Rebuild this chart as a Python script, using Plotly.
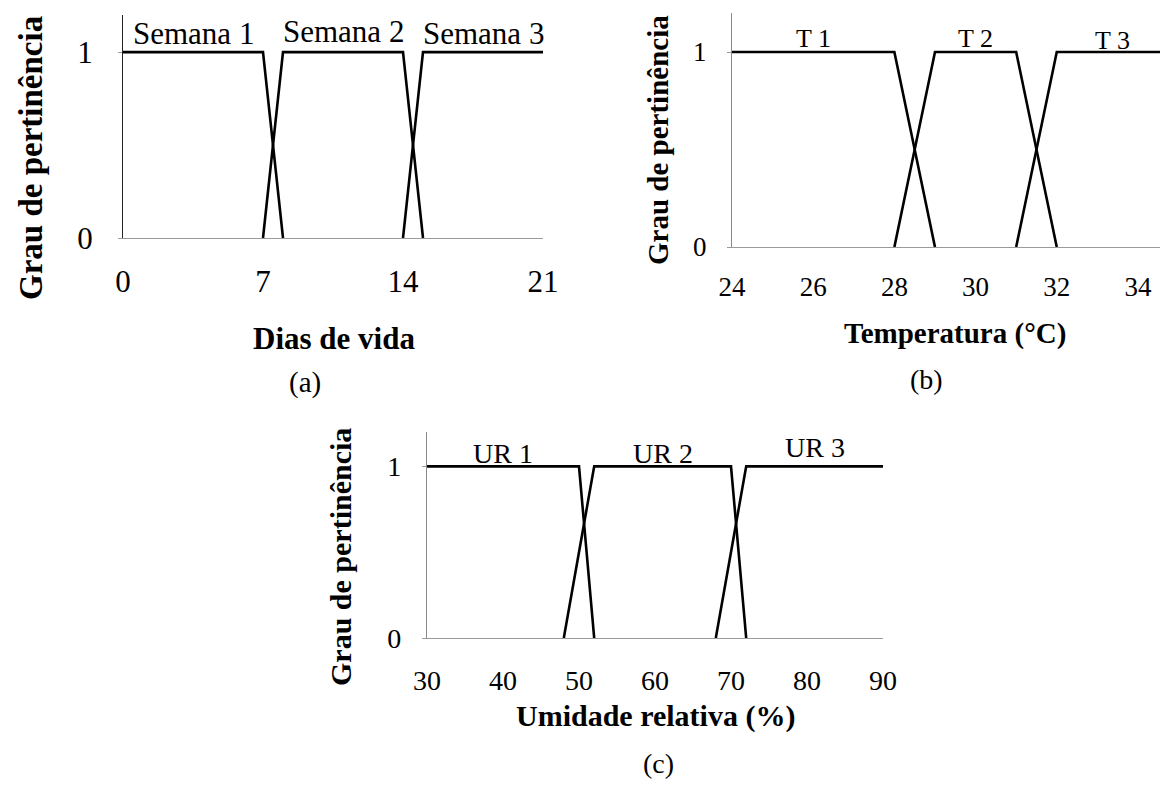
import plotly.graph_objects as go

# ---------------- data ----------------
dias_labels = ["Semana 1", "Semana 2", "Semana 3"]
dias_x = [[0, 7, 8], [7, 8, 14, 15], [14, 15, 21]]
dias_y = [[1, 1, 0], [0, 1, 1, 0], [0, 1, 1]]
dias_ticks = [0, 7, 14, 21]

temp_labels = ["T 1", "T 2", "T 3"]
temp_x = [[24, 28, 29], [28, 29, 31, 32], [31, 32, 35]]
temp_y = [[1, 1, 0], [0, 1, 1, 0], [0, 1, 1]]
temp_ticks = [24, 26, 28, 30, 32, 34]

ur_labels = ["UR 1", "UR 2", "UR 3"]
ur_x = [[30, 50, 52], [48, 52, 70, 72], [68, 72, 90]]
ur_y = [[1, 1, 0], [0, 1, 1, 0], [0, 1, 1]]
ur_ticks = [30, 40, 50, 60, 70, 80, 90]

y_ticks = [0, 1]

FONT = "Times New Roman, Liberation Serif, serif"
OFF = 8  # default page body margin
W, H = 1168 - OFF, 785 - OFF

fig = go.Figure()


def px_x(p):
    return (p - OFF) / W


def px_y(p):
    return 1 - (p - OFF) / H


panels = [
    dict(n="", xs=dias_x, ys=dias_y, labels=dias_labels, ticks=dias_ticks,
         xrange=[0, 21], xdom=[123, 543], ydom=[15, 238], tick_font=31,
         lab_font=31, lab_y=[1.10, 1.11, 1.10], ylinecolor="#222222",
         xstand=16, ystand=19),
    dict(n="2", xs=temp_x, ys=temp_y, labels=temp_labels, ticks=temp_ticks,
         xrange=[24, 34.74], xdom=[732, 1168], ydom=[13, 247], tick_font=27,
         lab_font=26, lab_y=[1.07, 1.07, 1.06], ylinecolor="#8a8a8a",
         xstand=15, ystand=15),
    dict(n="3", xs=ur_x, ys=ur_y, labels=ur_labels, ticks=ur_ticks,
         xrange=[30, 90], xdom=[427, 883], ydom=[432, 638], tick_font=28,
         lab_font=28, lab_y=[1.075, 1.075, 1.11], ylinecolor="#8a8a8a",
         xstand=17, ystand=15),
]

for p in panels:
    xa = "x" + p["n"]
    ya = "y" + p["n"]
    for xs, ys in zip(p["xs"], p["ys"]):
        fig.add_trace(go.Scatter(x=xs, y=ys, mode="lines", xaxis=xa, yaxis=ya,
                                 line=dict(color="black", width=2.6),
                                 showlegend=False, hoverinfo="skip"))
    for i, (lab, xs, yv) in enumerate(zip(p["labels"], p["xs"], p["lab_y"])):
        # label centred over the plateau (membership = 1) of its set
        if i == 0:
            lo, hi = xs[0], xs[1]
        elif len(xs) == 4:
            lo, hi = xs[1], xs[2]
        else:
            lo, hi = xs[1], min(xs[2], p["xrange"][1])
        fig.add_annotation(x=(lo + hi) / 2, y=yv, xref=xa, yref=ya,
                           text=lab, showarrow=False,
                           font=dict(family=FONT, size=p["lab_font"], color="black"),
                           xanchor="center", yanchor="middle")
    xkey = "xaxis" + p["n"]
    ykey = "yaxis" + p["n"]
    fig.update_layout(**{
        xkey: dict(domain=[px_x(p["xdom"][0]), min(1.0, px_x(p["xdom"][1]))],
                   range=p["xrange"], anchor=ya, showgrid=False, zeroline=False,
                   showline=True, linecolor="#9a9a9a", linewidth=1.2,
                   ticks="", tickvals=p["ticks"], ticklabelstandoff=p["xstand"],
                   tickfont=dict(family=FONT, size=p["tick_font"], color="black"),
                   automargin=False, fixedrange=True),
        ykey: dict(domain=[px_y(p["ydom"][1]), px_y(p["ydom"][0])],
                   range=[0, 1.2], anchor=xa, showgrid=False, zeroline=False,
                   showline=True, linecolor=p["ylinecolor"], linewidth=1.2,
                   ticks="outside", ticklen=4, tickcolor="#9a9a9a",
                   tickvals=y_ticks, ticklabelstandoff=p["ystand"],
                   tickfont=dict(family=FONT, size=p["tick_font"], color="black"),
                   automargin=False, fixedrange=True),
    })

# axis titles and sub-captions (page pixel positions)
texts = [
    ("<b>Grau de pertinência</b>", 31, 158, 33, -90),
    ("<b>Dias de vida</b>", 334, 339, 31, 0),
    ("(a)", 305, 383, 29, 0),
    ("<b>Grau de pertinência</b>", 658, 140, 29, -90),
    ("<b>Temperatura (°C)</b>", 955, 333, 29, 0),
    ("(b)", 926, 380, 28, 0),
    ("<b>Grau de pertinência</b>", 340, 557, 30, -90),
    ("<b>Umidade relativa (%)</b>", 655, 716, 30, 0),
    ("(c)", 658, 763, 28, 0),
]
for t, xp, yp, size, ang in texts:
    fig.add_annotation(x=px_x(xp), y=px_y(yp), xref="paper", yref="paper",
                       text=t, showarrow=False, textangle=ang,
                       font=dict(family=FONT, size=size, color="black"),
                       xanchor="center", yanchor="middle")

fig.update_layout(width=W, height=H, margin=dict(l=0, r=0, t=0, b=0, autoexpand=False),
                  paper_bgcolor="white", plot_bgcolor="white")

fig.write_html("out.html")
